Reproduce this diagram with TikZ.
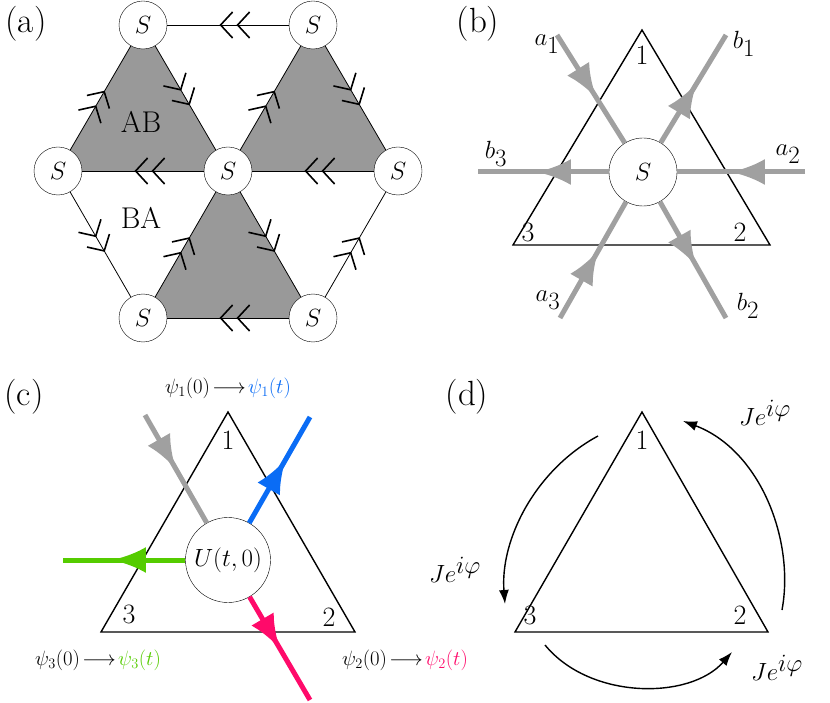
\documentclass[tikz,border=0pt]{standalone}
\usetikzlibrary{arrows.meta,decorations.markings}
\definecolor{gfill}{HTML}{999999}
\definecolor{gline}{HTML}{A0A0A0}
\definecolor{cblue}{HTML}{0A6CF5}
\definecolor{cgreen}{HTML}{55CC00}
\definecolor{cpink}{HTML}{FF0A6A}
\newcommand{\fs}[1]{\fontsize{#1}{#1}\selectfont}
\tikzset{
 snode/.style={circle,draw,fill=white,minimum size=48pt,inner sep=0pt,font=\fs{25}},
 dchev/.style={postaction={decorate},decoration={markings,
   mark=at position 0.45 with {\arrow{Straight Barb[length=12pt,width=26pt,line width=1.6pt]}},
   mark=at position 0.55 with {\arrow{Straight Barb[length=12pt,width=26pt,line width=1.6pt]}}}},
 edge0/.style={line width=0.8pt},
 gray5/.style={line width=5pt,draw=gline,color=gline},
 midarr/.style={postaction={decorate},decoration={markings,
   mark=at position #1 with {\arrow{Latex[length=34pt,width=26pt]}}}},
 tri/.style={line width=1.4pt,line join=miter},
 lab/.style={font=\fs{35}},
 num/.style={font=\fs{28}},
 curv/.style={line width=1.4pt,-{Latex[length=14pt,width=10pt]}},
}
\begin{document}
\begin{tikzpicture}[x=1pt,y=-1pt]
\useasboundingbox (0,0) rectangle (830,703);
% ---------- (a)
\node[lab] (la) at (26,24) {(a)};
\coordinate (A1) at (143,25); \coordinate (A2) at (313,25);
\coordinate (A3) at (58,171); \coordinate (A4) at (228,171); \coordinate (A5) at (398,171);
\coordinate (A6) at (143,318); \coordinate (A7) at (313,318);
\fill[gfill] (A1)--(A3)--(A4)--cycle;
\fill[gfill] (A2)--(A4)--(A5)--cycle;
\fill[gfill] (A4)--(A6)--(A7)--cycle;
\draw[edge0,dchev] (A2)--(A1);
\draw[edge0,dchev] (A4)--(A3);
\draw[edge0,dchev] (A5)--(A4);
\draw[edge0,dchev] (A7)--(A6);
\draw[edge0,dchev] (A3)--(A1);
\draw[edge0,dchev] (A1)--(A4);
\draw[edge0,dchev] (A4)--(A2);
\draw[edge0,dchev] (A2)--(A5);
\draw[edge0,dchev] (A6)--(A4);
\draw[edge0,dchev] (A4)--(A7);
\draw[edge0,dchev] (A3)--(A6);
\draw[edge0,dchev] (A7)--(A5);
\foreach \i in {1,...,7} \node[snode] (S\i) at (A\i) {$S$};
\node[font=\fs{30}] (ab) at (141,122) {AB};
\node[font=\fs{30}] (ba) at (141,218) {BA};
% ---------- (b)
\node[lab] (lb) at (478,24) {(b)};
\coordinate (B1) at (642,30); \coordinate (B3) at (513,245); \coordinate (B2) at (770,245);
\draw[tri] (B1)--(B2)--(B3)--cycle;
\node[num] (n1b) at (642,55) {1};
\node[num] (n3b) at (528,232) {3};
\node[num] (n2b) at (740,232) {2};
\node[circle,draw,fill=white,minimum size=68pt,inner sep=0pt,font=\fs{34}] (SB) at (643,172) {$S$};
\coordinate (pa1) at (557,35); \coordinate (pb1) at (726,35);
\coordinate (pa2) at (805,172); \coordinate (pb3) at (478,172);
\coordinate (pa3) at (560,318); \coordinate (pb2) at (726,318);
\draw[gray5,midarr=0.58] (pa1)--(SB);
\draw[gray5,midarr=0.55] (SB)--(pb1);
\draw[gray5,midarr=0.58] (pa2)--(SB);
\draw[gray5,midarr=0.55] (SB)--(pb3);
\draw[gray5,midarr=0.58] (pa3)--(SB);
\draw[gray5,midarr=0.55] (SB)--(pb2);
\node[lab] (ta1) at (547,44) {$a_1$};
\node[lab] (tb1) at (744,44) {$b_1$};
\node[lab] (tb3) at (496,154) {$b_3$};
\node[lab] (ta2) at (788,154) {$a_2$};
\node[lab] (ta3) at (548,300) {$a_3$};
\node[lab] (tb2) at (748,306) {$b_2$};
% ---------- (c)
\node[lab] (lc) at (24,397) {(c)};
\coordinate (C1) at (228,412); \coordinate (C3) at (101,632); \coordinate (C2) at (355,632);
\draw[tri] (C1)--(C2)--(C3)--cycle;
\node[num] (n1c) at (228,440) {1};
\node[num] (n3c) at (129,614) {3};
\node[num] (n2c) at (329,617) {2};
\node[circle,draw,fill=white,minimum size=85pt,inner sep=0pt,font=\fs{24}] (U) at (228,560) {$U(t,0)$};
\coordinate (pc1) at (145,415); \coordinate (pc2) at (310,417);
\coordinate (pc3) at (63,560); \coordinate (pc4) at (310,700);
\draw[line width=5pt,draw=gline,color=gline,midarr=0.5] (pc1)--(U);
\draw[line width=5pt,draw=cblue,color=cblue,midarr=0.6] (U)--(pc2);
\draw[line width=5pt,draw=cgreen,color=cgreen,midarr=0.6] (U)--(pc3);
\draw[line width=5pt,draw=cpink,color=cpink,midarr=0.5] (U)--(pc4);
\node[font=\fs{22}] (t1) at (228,388) {$\psi_1(0)\!\longrightarrow\!\textcolor{cblue}{\psi_1(t)}$};
\node[font=\fs{22}] (t3) at (98,660) {$\psi_3(0)\!\longrightarrow\!\textcolor{cgreen}{\psi_3(t)}$};
\node[font=\fs{22}] (t2) at (405,660) {$\psi_2(0)\!\longrightarrow\!\textcolor{cpink}{\psi_2(t)}$};
% ---------- (d)
\node[lab] (ld) at (467,397) {(d)};
\coordinate (D1) at (642,412); \coordinate (D3) at (515,632); \coordinate (D2) at (768,632);
\draw[tri] (D1)--(D2)--(D3)--cycle;
\node[num] (n1d) at (642,440) {1};
\node[num] (n3d) at (530,615) {3};
\node[num] (n2d) at (740,615) {2};
\coordinate (d1s) at (598,436); \coordinate (d1e) at (505,604);
\coordinate (d2s) at (782,610); \coordinate (d2e) at (683,421);
\coordinate (d3s) at (545,645); \coordinate (d3e) at (732,652);
\draw[curv] (d1s) .. controls (535,470) and (500,540) .. (d1e);
\draw[curv] (d2s) .. controls (795,540) and (760,450) .. (d2e);
\draw[curv] (d3s) .. controls (590,700) and (690,700) .. (d3e);
\node[lab] (j1) at (765,413) {$Je^{i\varphi}$};
\node[lab] (j2) at (455,570) {$Je^{i\varphi}$};
\node[lab] (j3) at (777,668) {$Je^{i\varphi}$};
\end{tikzpicture}
\end{document}
